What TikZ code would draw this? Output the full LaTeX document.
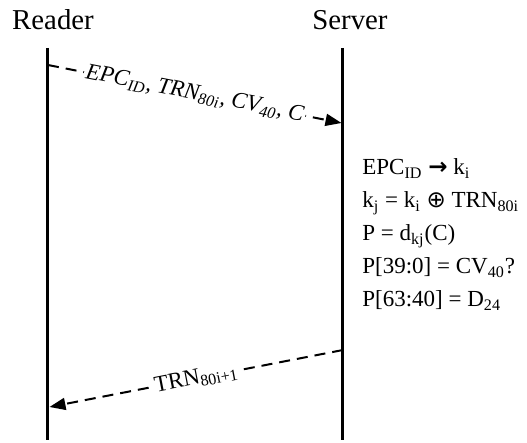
\documentclass[tikz,border=0pt]{standalone}
\usepackage{fontspec}
\setmainfont{Liberation Serif}
\newfontfamily\symfont{DejaVu Sans}
\usepackage{tikz}
\usetikzlibrary{arrows.meta}

\tikzset{
  lifeline/.style={line width=1.5pt},
  message/.style={-{Triangle[length=8pt,width=6pt]},line width=1pt,dash pattern=on 5.5pt off 3.5pt},
  msglabel/.style={sloped,fill=white,inner sep=1pt,font=\fontsize{11.5}{13}\selectfont},
  party/.style={anchor=base,inner sep=0pt,font=\fontsize{14.4}{16}\selectfont},
  calcline/.style={anchor=base west,inner sep=0pt,font=\fontsize{11.5}{13}\selectfont},
}

\begin{document}
\begin{tikzpicture}[x=0.5pt,y=-0.5pt]
        % \draw[help lines,step=20] (0,0) grid (527,443);
        \useasboundingbox (0,0) rectangle (527,443);

        \node[party] (reader) at (53,30) {Reader};
        \node[party] (server) at (350,30) {Server};

        % lifelines
        \coordinate (readertop) at (48,48);
        \coordinate (readerbot) at (48,440);
        \coordinate (servertop) at (343,48);
        \coordinate (serverbot) at (343,440);
        \draw[lifeline] (readertop) -- (readerbot);
        \draw[lifeline] (servertop) -- (serverbot);

        % reader to server
        \coordinate (req1) at (48,65);
        \coordinate (req2) at (341.5,123);
        \draw[message] (req1) -- node[msglabel,font=\fontsize{11.5}{13}\selectfont\itshape] (reqtext)
          {EPC\textsubscript{ID}, TRN\textsubscript{80i}, CV\textsubscript{40}, C} (req2);

        % server side checks
        \node[calcline] (chk1) at (362,175) {EPC\textsubscript{ID} {\symfont\bfseries →} k\textsubscript{i}};
        \node[calcline] (chk2) at (362,208) {k\textsubscript{j} = k\textsubscript{i} {\symfont ⊕} TRN\textsubscript{80i}};
        \node[calcline] (chk3) at (362,241) {P = d\textsubscript{kj}(C)};
        \node[calcline] (chk4) at (362,274) {P[39:0] = CV\textsubscript{40}?};
        \node[calcline] (chk5) at (362,307) {P[63:40] = D\textsubscript{24}};

        % server to reader
        \coordinate (resp1) at (343,350);
        \coordinate (resp2) at (49.5,407);
        \draw[message] (resp1) -- node[msglabel] (resptext) {TRN\textsubscript{80i+1}} (resp2);

      \end{tikzpicture}
\end{document}
